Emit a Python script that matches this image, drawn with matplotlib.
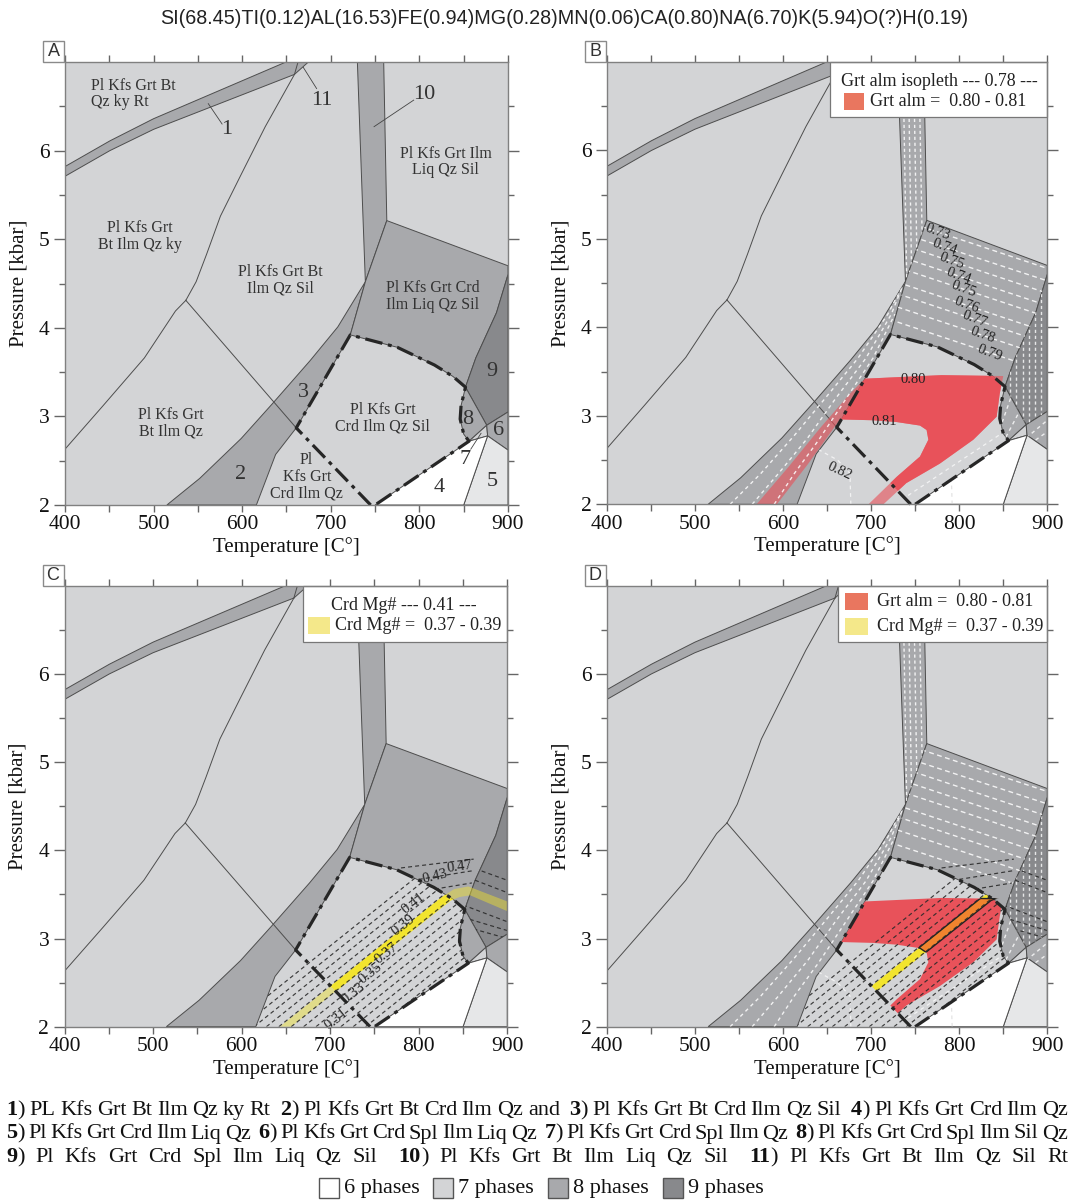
import matplotlib
matplotlib.use("Agg")
import matplotlib.pyplot as plt
from matplotlib.patches import Polygon, Rectangle

W, H, DPI = 1073, 1201, 100
SERIF = "Liberation Serif"
SANS = "Liberation Sans"

TITLE = "SI(68.45)TI(0.12)AL(16.53)FE(0.94)MG(0.28)MN(0.06)CA(0.80)NA(6.70)K(5.94)O(?)H(0.19)"
T_TICKS = [400, 500, 600, 700, 800, 900]
T_MINOR = [450, 550, 650, 750, 850]
P_TICKS = [2, 3, 4, 5, 6]
P_MINOR = [2.5, 3.5, 4.5, 5.5, 6.5]

PHASE_COLORS = {6: "#ffffff", 7: "#d3d4d6", 8: "#a8a9ac", 9: "#88898c"}
LIGHT7 = "#e6e7e8"
EDGE = "#4d4d4d"

# ---- field polygons (T [C], P [kbar]) ----
band1 = [(400, 5.71), (450.7, 6.0), (500, 6.24), (659, 6.86), (674.7, 7.0),
         (649.4, 7.0), (500, 6.36), (450.7, 6.11), (400, 5.82)]
band23 = [(515, 2.0), (552, 2.3), (598.8, 2.75), (633.8, 3.14), (676.7, 3.63),
          (707.9, 4.01), (739, 4.52), (722, 3.92), (661, 2.87), (637.7, 2.57), (616, 2.0)]
band10 = [(730, 7.0), (759.7, 7.0), (763.2, 5.21), (739, 4.52), (735, 5.61)]
liq8 = [(722, 3.92), (739, 4.52), (763.2, 5.21), (900, 4.70), (900, 4.60), (887, 4.17),
        (863.7, 3.66), (852, 3.33), (838, 3.45), (817, 3.58), (775, 3.78)]
field9 = [(852, 3.33), (863.7, 3.66), (887, 4.17), (900, 4.60), (900, 3.05), (876, 2.9)]
field8 = [(852, 3.33), (876, 2.9), (856, 2.72), (850, 2.80), (846, 2.97), (847, 3.12)]
field7 = [(856, 2.72), (876, 2.9), (877, 2.78)]
field6 = [(876, 2.9), (900, 3.05), (900, 2.62), (877, 2.78)]
field5 = [(850, 2.0), (877, 2.78), (900, 2.62), (900, 2.0)]
field4 = [(750, 2.0), (856, 2.72), (877, 2.78), (850, 2.0)]
low_crd = [(616, 2.0), (637.7, 2.57), (661, 2.87), (745, 2.0)]
dd_field = [(661, 2.87), (722, 3.92), (775, 3.78), (817, 3.58), (838, 3.45), (852, 3.33),
            (847, 3.12), (846, 2.97), (850, 2.80), (856, 2.72), (750, 2.0), (745, 2.0)]
crd_area = [(616, 2.0), (637.7, 2.57), (661, 2.87), (722, 3.92), (775, 3.78), (817, 3.58),
            (838, 3.45), (852, 3.33), (847, 3.12), (846, 2.97), (850, 2.80), (856, 2.72), (750, 2.0)]
FIELDS = [(band1, 8), (band23, 8), (band10, 8), (liq8, 8), (field9, 9), (field8, 8),
          (field7, 7), (field6, 8), (field5, None), (field4, 6)]

# ---- single boundary lines ----
ky_sil = [(536.4, 4.31), (548, 4.52), (559.8, 4.83), (575.4, 5.26), (598.8, 5.73), (626, 6.27), (659, 6.86)]
bt_line = [(400, 2.63), (442.9, 3.12), (489.6, 3.66), (524.7, 4.19), (536.4, 4.31)]
div_line = [(536.4, 4.31), (661, 2.87)]
r11_line = [(659, 6.86), (663, 7.0)]
dd_line = [(745, 2.0), (661, 2.87), (722, 3.92), (775, 3.78), (817, 3.58), (838, 3.45), (852, 3.33),
           (847, 3.12), (846, 2.97), (850, 2.80), (856, 2.72), (750, 2.0)]

# ---- panel A labels ----
A_FIELD_LABELS = [("Pl Kfs Grt Bt\nQz ky Rt", 429, 6.64, "left"),
                  ("Pl Kfs Grt\nBt Ilm Qz ky", 485, 5.03, "center"),
                  ("Pl Kfs Grt Bt\nIlm Qz Sil", 643.5, 4.54, "center"),
                  ("Pl Kfs Grt Ilm\nLiq Qz Sil", 829.4, 5.87, "center"),
                  ("Pl Kfs Grt Crd\nIlm Liq Qz Sil", 815, 4.35, "center"),
                  ("Pl Kfs Grt\nBt Ilm Qz", 519.6, 2.92, "center"),
                  ("Pl Kfs Grt\nCrd Ilm Qz Sil", 758.5, 2.98, "center"),
                  ("Pl\nKfs Grt\nCrd Ilm Qz", 672.8, 2.32, "center")]
A_NUM_LABELS = [("1", 583, 6.24), ("11", 690.3, 6.57), ("10", 805.3, 6.63), ("2", 597.6, 2.34),
                ("3", 668.9, 3.27), ("4", 822.8, 2.20), ("5", 882.4, 2.26), ("6", 889.5, 2.84),
                ("7", 852, 2.51), ("8", 854.8, 2.96), ("9", 881.3, 3.51)]
A_LEADERS = [[(561.7, 6.53), (577.3, 6.30)], [(668.9, 6.94), (684, 6.70)],
             [(748.8, 6.27), (793.6, 6.57)], [(858, 2.63), (869.6, 2.81)]]

# ---- Grt almandine isopleths (panel B, D) ----
ALM_VALUES = ["0.73", "0.74", "0.75", "0.74", "0.75", "0.76", "0.77", "0.78", "0.79"]
ALM_LABEL_T = [776, 783, 791, 799, 805, 809, 818, 827, 835]
ALM_LABEL_P = [5.08, 4.91, 4.75, 4.58, 4.43, 4.25, 4.09, 3.91, 3.71]
ALM_LINES = [[(730, 5.23), (905, 4.65)], [(730, 5.08), (905, 4.51)], [(730, 4.95), (905, 4.37)],
             [(730, 4.81), (905, 4.23)], [(730, 4.68), (905, 4.10)], [(730, 4.51), (905, 3.93)],
             [(730, 4.38), (905, 3.80)], [(730, 4.23), (905, 3.65)], [(730, 4.06), (905, 3.48)]]
ALM_RED_LABELS = [("0.80", 748, 3.41, 0), ("0.81", 714.6, 2.94, 0), ("0.82", 664.7, 2.37, -25)]
BAND10_LINES = [[(736, 7.1), (740.5, 4.5)], [(742, 7.1), (746, 4.6)], [(748, 7.1), (752, 4.8)],
                [(754, 7.1), (758, 5.0)]]
FIELD9_LINES = [[(858, 2.8), (858, 4.7)], [(865, 2.8), (865, 4.7)], [(872, 2.8), (872, 4.7)],
                [(879, 2.8), (879, 4.7)], [(886, 2.8), (886, 4.7)], [(893, 2.8), (893, 4.7)]]
BAND23_LINES = [[(540, 2.0), (575, 2.35), (613, 2.78), (648, 3.2), (685, 3.65), (719, 4.15), (737, 4.5)],
                [(565, 2.0), (595, 2.35), (628, 2.75), (660, 3.2), (694, 3.65), (723, 4.15), (735, 4.45)],
                [(590, 2.0), (613, 2.35), (640, 2.72), (672, 3.2), (702, 3.65), (727, 4.15)]]
FIELD8_LINES = [[(846, 2.85), (862, 3.3)], [(853, 2.76), (870, 3.08)]]
FIELD6_LINES = [[(876, 2.75), (900, 2.95)], [(880, 2.68), (900, 2.82)]]
LOW_WHITE = [[(640, 2.62), (662, 2.5), (676, 2.35), (677, 2.0)]]
DD_WHITE = [[(742, 2.1), (848, 2.8)]]
F4_WHITE = [[(792, 2.0), (791, 2.33)]]

RED_FIELD = [(693, 3.42), (780, 3.46), (850, 3.45), (846, 3.25), (842.5, 2.99), (816, 2.73),
             (778, 2.46), (740, 2.24), (714, 2.0), (697, 2.0), (729, 2.31), (755.5, 2.54),
             (765, 2.73), (763, 2.84), (755.5, 2.89), (729, 2.93), (702.5, 2.95), (664.7, 2.96),
             (628, 2.45), (593, 2.0), (570, 2.0), (606, 2.42), (642, 2.86), (676, 3.25)]

# ---- Crd Mg# isopleths (panel C, D) ----
CRD_LINES = [[(754, 2.0), (1054, 4.41)], [(740, 2.0), (1040, 4.41)], [(726, 2.0), (1026, 4.41)],
             [(712, 2.0), (1012, 4.41)], [(698, 2.0), (998, 4.41)], [(684, 2.0), (984, 4.41)],
             [(670, 2.0), (970, 4.41)], [(656, 2.0), (956, 4.41)], [(642, 2.0), (942, 4.41)],
             [(628, 2.0), (928, 4.41)], [(614, 2.0), (914, 4.41)], [(600, 2.0), (900, 4.41)],
             [(586, 2.0), (886, 4.41)]]
CRD_LIQ_LINES = [[(780, 3.80), (862, 3.90)], [(800, 3.67), (862, 3.77)], [(818, 3.56), (860, 3.63)]]
CRD_9_LINES = [[(856, 3.82), (900, 3.66)], [(856, 3.69), (900, 3.52)], [(850, 3.38), (900, 3.19)],
               [(850, 3.24), (900, 3.09)], [(854, 3.13), (900, 3.0)]]
CRD_LABELS = [("0.31", 707.4, 2.08, 38), ("0.33", 726, 2.38, 38), ("0.35", 745, 2.60, 38),
              ("0.37", 763.8, 2.83, 38), ("0.39", 782.6, 3.15, 38), ("0.41", 793.8, 3.40, 38),
              ("0.43", 818, 3.70, 14), ("0.47", 846.6, 3.81, 8)]
YELLOW_FIELD = [(643, 2.0), (826, 3.47), (840, 3.56), (856, 3.59), (900, 3.42), (900, 3.31),
                (858, 3.49), (846, 3.47), (836, 3.43), (656, 2.0)]

RED = "#e8525a"
YELLOW = "#f2e42e"
ORANGE = "#f0842e"
LEG_RED = "#e9765f"
LEG_YEL = "#f4e88a"

CAPTION = [
    [("1", "PL Kfs Grt Bt Ilm Qz ky Rt"), ("2", "Pl Kfs Grt Bt Crd Ilm Qz and"),
     ("3", "Pl Kfs Grt Bt Crd Ilm Qz Sil"), ("4", "Pl Kfs Grt Crd Ilm Qz")],
    [("5", "Pl Kfs Grt Crd Ilm Liq Qz"), ("6", "Pl Kfs Grt Crd Spl Ilm Liq Qz"),
     ("7", "Pl Kfs Grt Crd Spl Ilm Qz"), ("8", "Pl Kfs Grt Crd Spl Ilm Sil Qz")],
    [("9", "Pl Kfs Grt Crd Spl Ilm Liq Qz Sil"), ("10", "Pl Kfs Grt Bt Ilm Liq Qz Sil"),
     ("11", "Pl Kfs Grt Bt Ilm Qz Sil Rt")],
]
PHASE_LEGEND = [(6, "6 phases"), (7, "7 phases"), (8, "8 phases"), (9, "9 phases")]

AX_RECTS = {"A": (65, 62, 508, 505), "B": (606.8, 62, 1047.3, 504.3),
            "C": (64.5, 585.7, 507.3, 1026.7), "D": (606.8, 585.7, 1047.3, 1026.7)}

fig = plt.figure(figsize=(W / DPI, H / DPI), dpi=DPI)
fig.patch.set_facecolor("white")


def clip_patch(ax, verts):
    return Polygon(verts, closed=True, transform=ax.transData, facecolor="none", edgecolor="none")


def xs(pts):
    return [p[0] for p in pts]


def ys(pts):
    return [p[1] for p in pts]


def dashed(ax, lines, clip_verts, color, lw, dashes, alpha=1.0, z=4):
    cp = clip_patch(ax, clip_verts)
    for ln in lines:
        l, = ax.plot(xs(ln), ys(ln), color=color, lw=lw, linestyle=(0, dashes), alpha=alpha,
                     zorder=z, solid_capstyle="butt", dash_capstyle="butt")
        l.set_clip_path(cp)


def make_axes(key):
    x0, y0, x1, y1 = AX_RECTS[key]
    ax = fig.add_axes([x0 / W, 1 - y1 / H, (x1 - x0) / W, (y1 - y0) / H])
    ax.set_xlim(400, 900)
    ax.set_ylim(2, 7)
    ax.set_facecolor(PHASE_COLORS[7])
    ax.set_xticks(T_TICKS)
    ax.set_xticks(T_MINOR, minor=True)
    ax.set_yticks(P_TICKS)
    ax.set_yticks(P_MINOR, minor=True)
    ax.set_xticklabels([str(t) for t in T_TICKS], fontsize=15.5, family=SERIF)
    ax.set_yticklabels([str(p) for p in P_TICKS], fontsize=15.5, family=SERIF)
    ax.tick_params(which="both", direction="out", top=True, right=True, color="#666666",
                   labelcolor="#111111", width=1.0)
    ax.tick_params(axis="x", which="both", length=5, pad=2.5)
    ax.tick_params(axis="y", which="major", length=8, pad=3)
    ax.tick_params(axis="y", which="minor", length=4.5)
    for s in ax.spines.values():
        s.set_color("#808080")
        s.set_linewidth(1.0)
        s.set_zorder(20)
    fig.text((x0 + x1) / 2 / W, 1 - (y1 + 42) / H, "Temperature [C°]", ha="center", va="center",
             fontsize=15, family=SERIF, color="#111111")
    fig.text((x0 - 46) / W, 1 - (y0 + y1) / 2 / H, "Pressure [kbar]", ha="center", va="center",
             rotation=90, fontsize=15, family=SERIF, color="#111111")
    fig.patches.append(Rectangle(((x0 - 22) / W, 1 - y0 / H), 21 / W, 21 / H,
                                 transform=fig.transFigure, facecolor="white",
                                 edgecolor="#8a8a8a", lw=1.0))
    fig.text((x0 - 11.5) / W, 1 - (y0 - 10.5) / H, key, ha="center", va="center",
             fontsize=13, family=SANS, color="#333333")
    # fields
    for verts, n in FIELDS:
        fc = LIGHT7 if n is None else PHASE_COLORS[n]
        ax.add_patch(Polygon(verts, closed=True, facecolor=fc, edgecolor=EDGE, lw=0.7, zorder=1))
    for ln in (ky_sil, bt_line, div_line, r11_line):
        ax.plot(xs(ln), ys(ln), color=EDGE, lw=0.7, zorder=1.5)
    return ax


def draw_dd(ax):
    ax.plot(xs(dd_line), ys(dd_line), color="#262626", lw=2.3,
            linestyle=(0, (5.5, 1.8, 1.2, 1.8)), zorder=6, clip_on=False)


def white_isopleths(ax):
    wd = (3.5, 2.5)
    dashed(ax, ALM_LINES, liq8, "white", 1.0, wd, 0.85)
    dashed(ax, BAND10_LINES, band10, "white", 1.0, (2.3, 2.0), 0.85)
    dashed(ax, FIELD9_LINES, field9, "white", 1.0, (2.3, 2.0), 0.8)
    dashed(ax, BAND23_LINES, band23, "white", 1.0, (2.6, 2.6), 0.85)
    dashed(ax, FIELD8_LINES, field8, "white", 1.0, (2.6, 2.6), 0.8)
    dashed(ax, FIELD6_LINES, field6, "white", 1.0, (2.6, 2.6), 0.8)
    dashed(ax, LOW_WHITE, low_crd, "white", 0.9, (3, 3), 0.7)
    dashed(ax, DD_WHITE, dd_field, "white", 0.9, (3, 3), 0.7)
    dashed(ax, F4_WHITE, field4, "#dddddd", 0.9, (3, 3), 0.8)


def black_isopleths(ax):
    bd = (3.4, 2.6)
    dashed(ax, CRD_LINES, crd_area, "#2a2a2a", 0.85, bd, 0.9, z=4.5)
    dashed(ax, CRD_LIQ_LINES, liq8, "#2a2a2a", 0.85, bd, 0.9, z=4.5)
    dashed(ax, CRD_9_LINES, field9, "#2a2a2a", 0.85, bd, 0.9, z=4.5)


def legend_box(ax, x0, y0, rows):
    ax.add_patch(Rectangle((x0, y0), 1 - x0, 1 - y0, transform=ax.transAxes, facecolor="white",
                           edgecolor="#777777", lw=0.9, zorder=15, clip_on=False))
    for kind, a, b, c in rows:
        if kind == "text":
            ax.text(a, b, c[0], transform=ax.transAxes, ha=c[1], va="center", fontsize=13,
                    family=SERIF, color="#222222", zorder=16)
        else:
            ax.add_patch(Rectangle((a, b), c[0], c[1], transform=ax.transAxes, facecolor=c[2],
                                   edgecolor="none", zorder=16))


# ---------------- Panel A ----------------
axA = make_axes("A")
for txt, t, p, ha in A_FIELD_LABELS:
    axA.text(t, p, txt, ha=ha, va="center", fontsize=11.5, family=SERIF, color="#333333",
             linespacing=1.05, zorder=7)
for txt, t, p in A_NUM_LABELS:
    axA.text(t, p, txt, ha="center", va="center", fontsize=16, family=SERIF, color="#333333", zorder=7)
for ln in A_LEADERS:
    axA.plot(xs(ln), ys(ln), color="#444444", lw=0.6, zorder=7)
draw_dd(axA)

# ---------------- Panel B ----------------
axB = make_axes("B")
axB.add_patch(Polygon(RED_FIELD, closed=True, facecolor=RED, edgecolor="none", alpha=0.62, zorder=2))
rb = Polygon(RED_FIELD, closed=True, facecolor=RED, edgecolor="none", zorder=2.1)
axB.add_patch(rb)
rb.set_clip_path(clip_patch(axB, dd_field))
white_isopleths(axB)
for v, t, p in zip(ALM_VALUES, ALM_LABEL_T, ALM_LABEL_P):
    axB.text(t, p, v, ha="center", va="center", rotation=-20, fontsize=10.5, family=SERIF,
             color="#222222", zorder=7)
for v, t, p, r in ALM_RED_LABELS:
    axB.text(t, p, v, ha="center", va="center", rotation=r, fontsize=10.5, family=SERIF,
             color="#222222", zorder=7)
draw_dd(axB)
legend_box(axB, 0.5066, 0.8757, [
    ("text", 0.531, 0.9559, ("Grt alm isopleth --- 0.78 ---", "left")),
    ("patch", 0.5383, 0.8926, (0.0463, 0.0364, LEG_RED)),
    ("text", 0.5975, 0.9118, ("Grt alm =  0.80 - 0.81", "left")),
])

# ---------------- Panel C ----------------
axC = make_axes("C")
axC.add_patch(Polygon(YELLOW_FIELD, closed=True, facecolor=YELLOW, edgecolor="none", alpha=0.45, zorder=2))
yc = Polygon(YELLOW_FIELD, closed=True, facecolor=YELLOW, edgecolor="none", zorder=2.1)
axC.add_patch(yc)
yc.set_clip_path(clip_patch(axC, dd_field))
black_isopleths(axC)
for v, t, p, r in CRD_LABELS:
    axC.text(t, p, v, ha="center", va="center", rotation=r, fontsize=10.5, family=SERIF,
             color="#222222", zorder=7)
draw_dd(axC)
legend_box(axC, 0.538, 0.8719, [
    ("text", 0.7667, 0.9547, ("Crd Mg# --- 0.41 ---", "center")),
    ("patch", 0.5499, 0.8898, (0.0508, 0.0381, LEG_YEL)),
    ("text", 0.6109, 0.910, ("Crd Mg# =  0.37 - 0.39", "left")),
])

# ---------------- Panel D ----------------
axD = make_axes("D")
rd = Polygon(RED_FIELD, closed=True, facecolor=RED, edgecolor="none", zorder=2)
axD.add_patch(rd)
rd.set_clip_path(clip_patch(axD, dd_field))
yd = Polygon(YELLOW_FIELD, closed=True, facecolor=YELLOW, edgecolor="none", zorder=2.1)
axD.add_patch(yd)
yd.set_clip_path(clip_patch(axD, dd_field))
od = Polygon(YELLOW_FIELD, closed=True, facecolor=ORANGE, edgecolor="#222222", lw=1.0, zorder=2.2)
axD.add_patch(od)
od.set_clip_path(clip_patch(axD, RED_FIELD))
ol = Polygon(RED_FIELD, closed=True, facecolor="none", edgecolor="#222222", lw=1.0, zorder=2.3)
axD.add_patch(ol)
ol.set_clip_path(clip_patch(axD, YELLOW_FIELD))
white_isopleths(axD)
black_isopleths(axD)
draw_dd(axD)
legend_box(axD, 0.5255, 0.873, [
    ("patch", 0.5407, 0.9449, (0.0529, 0.0392, LEG_RED)),
    ("text", 0.6127, 0.9637, ("Grt alm =  0.80 - 0.81", "left")),
    ("patch", 0.5407, 0.8882, (0.0529, 0.0379, LEG_YEL)),
    ("text", 0.6127, 0.907, ("Crd Mg# =  0.37 - 0.39", "left")),
])

# ---------------- title ----------------
renderer = fig.canvas.get_renderer()
tt = fig.text(564 / W, 1 - 18 / H, TITLE, ha="center", va="center", fontsize=12, family=SANS,
              color="#222222")
tw = tt.get_window_extent(renderer).width
tt.set_fontsize(12 * 808 / tw)


# ---------------- caption ----------------
def measure(s, fs, wt):
    t = fig.text(0, 0, s, fontsize=fs, fontweight=wt, family=SERIF)
    w = t.get_window_extent(renderer).width
    t.remove()
    return w


def build_words(items):
    words, seps = [], []
    for i, (num, txt) in enumerate(items):
        if i > 0:
            seps.append(2.0)
        words.append([(num, "bold"), (")", "normal")])
        for tk in txt.split():
            seps.append(1.0)
            words.append([(tk, "normal")])
    return words, seps


XL, XR = 6, 1068
fs_cap = 15.5
for fs_try in [17.5, 17, 16.5, 16, 15.5, 15, 14.5, 14, 13.5, 13]:
    ok = True
    for items in CAPTION[:2]:
        words, seps = build_words(items)
        tot = sum(measure(s, fs_try, wt) for wd in words for s, wt in wd)
        if (XR - XL - tot) / sum(seps) < 3.5:
            ok = False
    if ok:
        fs_cap = fs_try
        break

for li, items in enumerate(CAPTION):
    words, seps = build_words(items)
    widths = [[measure(s, fs_cap, wt) for s, wt in wd] for wd in words]
    tot = sum(sum(w) for w in widths)
    gap = (XR - XL - tot) / sum(seps)
    x = XL
    yb = [1115, 1138.5, 1162][li]
    for i, wd in enumerate(words):
        if i > 0:
            x += gap * seps[i - 1]
        for (s, wt), w in zip(wd, widths[i]):
            fig.text(x / W, 1 - yb / H, s, fontsize=fs_cap, fontweight=wt, family=SERIF,
                     ha="left", va="baseline", color="#111111")
            x += w

# ---------------- phase legend ----------------
sq_x = [319, 433, 548, 663]
for (n, lab), x in zip(PHASE_LEGEND, sq_x):
    fig.patches.append(Rectangle((x / W, 1 - 1198 / H), 20 / W, 20 / H, transform=fig.transFigure,
                                 facecolor=PHASE_COLORS[n], edgecolor="#555555", lw=1.0))
    fig.text((x + 25) / W, 1 - 1188 / H, lab, ha="left", va="center", fontsize=16,
             family=SERIF, color="#111111")

fig.savefig("out.png", dpi=DPI, facecolor="white")
